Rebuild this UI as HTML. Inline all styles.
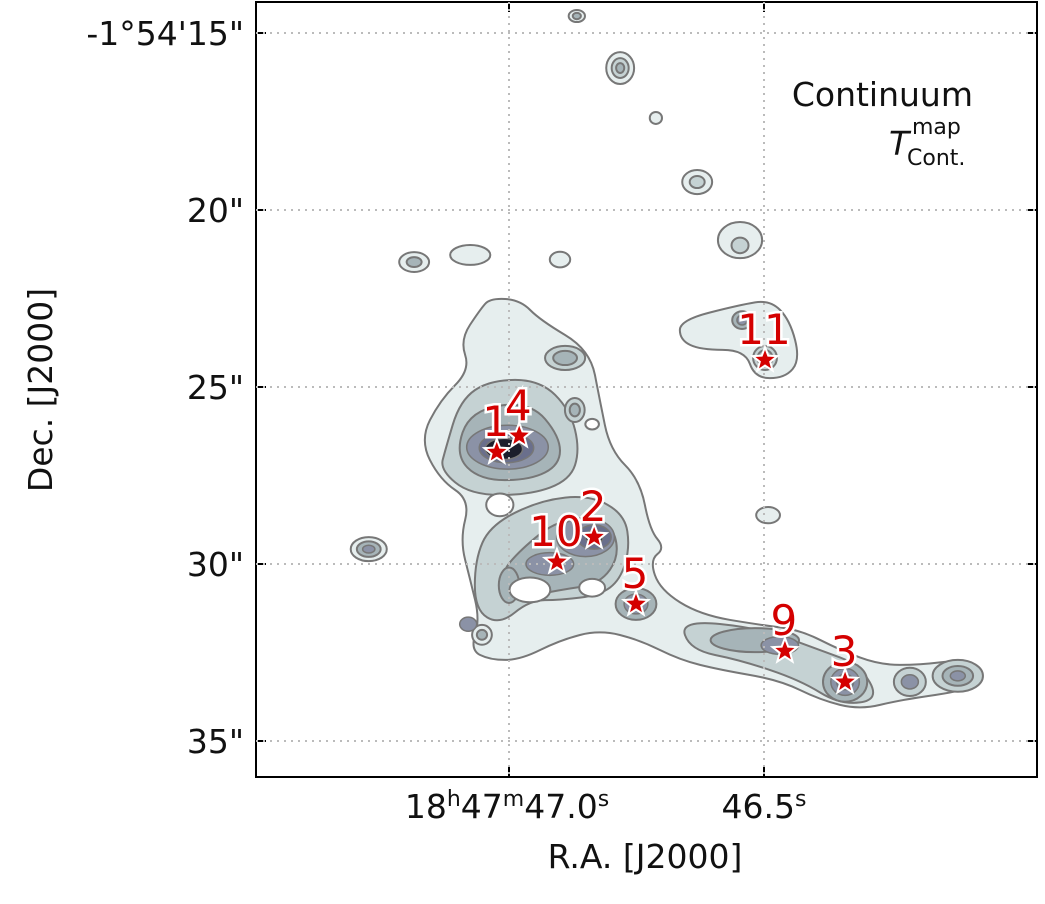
<!DOCTYPE html>
<html><head><meta charset="utf-8"><style>
body{margin:0;background:#fff}
svg{display:block;font-family:"DejaVu Sans","Liberation Sans",sans-serif}
</style></head><body>
<svg id="chart" width="1045" height="904" viewBox="0 0 1045 904">
<rect width="1045" height="904" fill="#fff"/>
<g id="grid"></g>
<g id="contours"></g>
<g id="sources"></g>
<g id="axes"></g>
<text x="973" y="106" font-size="33" text-anchor="end" fill="#111">Continuum</text>
<text x="889" y="155" font-size="33" font-style="italic" fill="#111">T</text>
<text x="912" y="134" font-size="22" fill="#111">map</text>
<text x="907" y="165" font-size="22" fill="#111">Cont.</text>
<text x="645" y="868" font-size="33" text-anchor="middle" fill="#111">R.A. [J2000]</text>
<text transform="translate(52,390) rotate(-90)" font-size="33" text-anchor="middle" fill="#111">Dec. [J2000]</text>
</svg>
<script>
const xTicks=[47.0,46.5];
const xTickLabels=[["18","h","47","m","47.0","s"],["46.5","s"]];
const yTicks=[15,20,25,30,35];
const yTickLabels=["-1°54'15\"","20\"","25\"","30\"","35\""];
const srcNames=["1","4","2","10","5","9","3","11"];
const srcRA=[47.024,46.980,46.833,46.906,46.751,46.459,46.341,46.498];
const srcDec=[26.84,26.38,29.24,29.94,31.13,32.46,33.33,24.24];
const levelFill=["#e6eeee","#c5d2d3","#a6b4b8","#8b92a6","#6a6f8c","#1c1e2c"];
const polys=[
[0,[[47.037,22.49],[46.978,22.54],[46.939,23.11],[46.841,23.95],[46.822,25.37],[46.802,26.78],[46.743,27.63],[46.724,29.04],[46.694,29.55],[46.724,29.89],[46.704,30.73],[46.625,31.44],[46.508,31.72],[46.429,31.86],[46.351,32.43],[46.273,32.85],[46.194,32.85],[46.116,32.71],[46.067,33.14],[46.096,33.56],[46.233,33.84],[46.312,34.12],[46.390,33.84],[46.469,33.28],[46.586,32.99],[46.665,32.71],[46.743,32.15],[46.822,31.86],[46.900,32.15],[46.978,32.71],[47.037,32.71],[47.076,32.43],[47.057,31.58],[47.076,30.45],[47.096,29.32],[47.076,28.19],[47.135,27.63],[47.175,26.50],[47.135,25.37],[47.076,24.52],[47.096,23.67],[47.057,22.82]]],
[0,[[46.665,23.11],[46.547,22.68],[46.488,22.54],[46.449,23.11],[46.429,24.24],[46.459,24.75],[46.518,24.75],[46.537,23.95],[46.625,23.95],[46.665,23.67]]],
[1,[[47.125,26.78],[47.096,25.37],[47.037,24.8],[46.939,24.8],[46.880,25.65],[46.861,26.78],[46.880,27.63],[46.959,28.05],[47.076,28.05],[47.135,27.34]]],
[1,[[47.037,28.9],[46.939,28.20],[46.841,28.05],[46.773,28.6],[46.763,29.55],[46.782,30.45],[46.822,30.88],[46.900,31.02],[46.959,31.02],[47.018,31.72],[47.067,31.30],[47.067,29.89]]],
[1,[[46.665,31.58],[46.508,31.81],[46.390,32.43],[46.312,32.85],[46.273,33.84],[46.351,33.98],[46.429,33.28],[46.547,32.71],[46.645,32.43]]],
[2,[[47.106,26.92],[47.076,25.65],[46.959,25.40],[46.900,26.4],[46.900,27.2],[46.959,27.63],[47.057,27.63]]],
[2,[[46.978,29.60],[46.900,28.70],[46.802,28.75],[46.782,29.75],[46.822,30.57],[46.900,30.73],[46.998,31.02],[47.018,30.3]]]
];
const ells=[
[46.782,15.99,0.41,0.45,0],[46.782,15.99,0.25,0.28,1],[46.782,15.99,0.12,0.14,2],
[46.867,14.52,0.24,0.17,0],[46.867,14.52,0.12,0.09,2],
[46.631,19.21,0.44,0.34,0],[46.631,19.21,0.22,0.17,1],
[46.547,20.85,0.65,0.51,0],[46.547,21.0,0.25,0.22,1],
[47.186,21.47,0.44,0.28,0],[47.186,21.47,0.22,0.14,2],
[47.275,29.58,0.53,0.34,0],[47.275,29.58,0.35,0.22,2],[47.275,29.58,0.18,0.11,3],
[46.890,24.18,0.59,0.34,1],[46.890,24.18,0.35,0.2,2],
[46.871,25.65,0.29,0.34,1],[46.871,25.65,0.15,0.18,2],
[47.053,32.0,0.29,0.28,0],[47.053,32.0,0.15,0.14,2],
[46.214,33.33,0.47,0.40,1],[46.214,33.33,0.25,0.2,3],
[46.120,33.16,0.74,0.45,1],[46.120,33.16,0.45,0.28,2],[46.120,33.16,0.22,0.14,3],
[47.076,21.27,0.59,0.28,0],[46.900,21.40,0.3,0.22,0],
[46.492,28.62,0.35,0.23,0],[46.712,17.40,0.18,0.17,0],
[46.543,23.11,0.29,0.25,2],[46.543,23.11,0.15,0.14,3],
[46.498,24.18,0.35,0.34,1],[46.498,24.18,0.22,0.22,2],[46.498,24.18,0.1,0.1,3],
[46.751,31.13,0.6,0.45,2],[46.751,31.13,0.35,0.28,3],
[46.518,32.15,1.3,0.34,2],[46.469,32.30,0.55,0.25,3],
[46.341,33.33,0.65,0.56,2],[46.341,33.33,0.42,0.38,3],[46.341,33.33,0.25,0.22,4],
[47.003,26.70,1.2,0.62,3],[47.005,26.72,0.8,0.42,4],[47.010,26.75,0.55,0.3,5],
[46.850,29.24,0.85,0.55,3],[46.833,29.24,0.5,0.34,4],[46.833,29.24,0.26,0.2,5],
[46.920,30.0,0.7,0.32,3],[47.000,30.6,0.3,0.5,2],[47.080,31.70,0.25,0.2,3],
[46.959,30.73,0.6,0.35,-1],[47.018,28.33,0.4,0.32,-1],[46.837,30.67,0.38,0.25,-1],[46.837,26.05,0.2,0.15,-1]
];
const L=256,R=1037,T=2,B=777;
function X(ra){return 509+(47.0-ra)*510;}
function Y(dec){return 33+(dec-15)*35.4;}
const NS="http://www.w3.org/2000/svg";
function mk(tag,attrs,parent){const e=document.createElementNS(NS,tag);for(const k in attrs)e.setAttribute(k,attrs[k]);parent.appendChild(e);return e;}
const grid=document.getElementById('grid'),cont=document.getElementById('contours'),src=document.getElementById('sources'),axes=document.getElementById('axes');
const items=[];
polys.forEach(p=>items.push({lv:p[0],p:p[1]}));
ells.forEach(e=>items.push({lv:e[4],e:e}));
const order=[0,1,2,-1,3,4,5];
order.forEach(lv=>{items.filter(it=>it.lv===lv).forEach(it=>{
  const fill=lv<0?"#ffffff":levelFill[lv];
  let el;
  if(it.p){
    const pts=it.p.map(q=>[X(q[0]),Y(q[1])]);
    let d="M"+((pts[0][0]+pts[1][0])/2)+","+((pts[0][1]+pts[1][1])/2);
    for(let i=1;i<=pts.length;i++){const a=pts[i%pts.length],b=pts[(i+1)%pts.length];const mx=(a[0]+b[0])/2,my=(a[1]+b[1])/2;d+=" Q"+a[0]+","+a[1]+" "+mx+","+my;}
    d+="Z";
    el=mk('path',{d:d,fill:fill,stroke:"#777",'stroke-width':2,'stroke-linejoin':'round'},cont);
  }else{
    const e=it.e;
    el=mk('ellipse',{cx:X(e[0]),cy:Y(e[1]),rx:e[2]*34,ry:e[3]*35.4,fill:fill,stroke:"#777",'stroke-width':lv>=3?1.5:2},cont);
  }
  
  
});});
xTicks.forEach((t,i)=>{
  const g=mk('line',{x1:X(t),x2:X(t),y1:T,y2:B,stroke:"#bbb",'stroke-width':2,'stroke-dasharray':'2,5'},grid);
  
  
});
yTicks.forEach(t=>{
  const g=mk('line',{x1:L,x2:R,y1:Y(t),y2:Y(t),stroke:"#bbb",'stroke-width':2,'stroke-dasharray':'2,5'},grid);
  
  
});
grid.parentNode.appendChild(grid);
const starPts=[];for(let i=0;i<10;i++){const r=i%2?5.5:13,a=-Math.PI/2+i*Math.PI/5;starPts.push((r*Math.cos(a)).toFixed(2)+","+(r*Math.sin(a)).toFixed(2));}
srcNames.forEach((n,i)=>{
  const x=X(srcRA[i]),y=Y(srcDec[i]);
  const s=mk('polygon',{points:starPts.join(" "),transform:`translate(${x},${y})`,fill:"#d40000",stroke:"#fff",'stroke-width':2},src);
  
  
  const t=mk('text',{x:x-1,y:y-16,'font-size':42,'text-anchor':'middle',fill:"#d40000",stroke:"#fff",'stroke-width':5,'paint-order':'stroke'},src);
  t.textContent=n;
  
  
});
src.parentNode.appendChild(src);
const fr=mk('rect',{x:L,y:T,width:R-L,height:B-T,fill:"none",stroke:"#000",'stroke-width':2},axes);


xTicks.forEach((t,i)=>{
  const x=X(t);
  mk('line',{x1:x,x2:x,y1:B,y2:B-10,stroke:"#000",'stroke-width':2},axes);
  mk('line',{x1:x,x2:x,y1:T,y2:T+10,stroke:"#000",'stroke-width':2},axes);
  const lab=xTickLabels[i];
  const tx=mk('text',{x:x+(i===0?-2:0),y:818,'font-size':33,'text-anchor':'middle',fill:"#111"},axes);
  
  
  for(let k=0;k<lab.length;k+=2){
    const a=mk('tspan',k>0?{dy:12}:{},tx);a.textContent=lab[k];
    const b=mk('tspan',{'font-size':22,dy:-12},tx);b.textContent=lab[k+1];
  }
});
yTicks.forEach((t,i)=>{
  const y=Y(t);
  mk('line',{x1:L,x2:L+10,y1:y,y2:y,stroke:"#000",'stroke-width':2},axes);
  mk('line',{x1:R,x2:R-10,y1:y,y2:y,stroke:"#000",'stroke-width':2},axes);
  const tx=mk('text',{x:L-12,y:y+12,'font-size':33,'text-anchor':'end',fill:"#111"},axes);
  tx.textContent=yTickLabels[i];
  
  
});
</script>
</body></html>
